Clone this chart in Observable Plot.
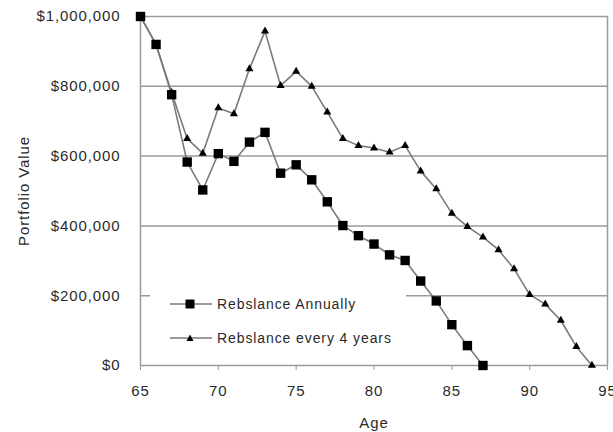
<!DOCTYPE html>
<html>
<head>
<meta charset="utf-8">
<script src="https://cdn.jsdelivr.net/npm/d3@7"></script>
<script src="https://cdn.jsdelivr.net/npm/@observablehq/plot@0.6"></script>
<style>
  body { margin: 0; background: #fff; }
  #wrap { position: relative; width: 613px; height: 432px; font-family: "Liberation Sans", Arial, sans-serif; }
  #legend { position: absolute; left: 150px; top: 286px; width: 256px; height: 64px; background: #fff;
            font-size: 14px; letter-spacing: 0.9px; color: #2a2a2a; }
  .item { position: absolute; left: 20px; height: 16px; display: flex; align-items: center; }
  .item svg { margin-right: 5px; }
</style>
</head>
<body>
<div id="wrap"></div>
<script>
const annualAges = [65,66,67,68,69,70,71,72,73,74,75,76,77,78,79,80,81,82,83,84,85,86,87];
const annualValues = [1000000,920000,776000,583000,503000,607000,585000,640000,668000,551000,575000,532000,469000,401000,372000,348000,317000,301000,242000,185000,117000,57000,0];
const every4Ages = [65,66,67,68,69,70,71,72,73,74,75,76,77,78,79,80,81,82,83,84,85,86,87,88,89,90,91,92,93,94];
const every4Values = [1000000,920000,782000,650000,608000,738000,721000,850000,958000,802000,843000,800000,726000,650000,630000,623000,611000,630000,557000,506000,436000,398000,368000,331000,277000,203000,176000,129000,54000,0];
const seriesNames = ["Rebslance Annually", "Rebslance every 4 years"];
const yTicks = [0, 200000, 400000, 600000, 800000, 1000000];
const xTicks = [65, 70, 75, 80, 85, 90, 95];

const annual = annualAges.map((a, i) => ({age: a, value: annualValues[i]}));
const every4 = every4Ages.map((a, i) => ({age: a, value: every4Values[i]}));

const lineColor = "#7a7a7a";
const gridColor = "#9a9a9a";
const money = d => "$" + d3.format(",")(d);

const chart = Plot.plot({
  width: 613,
  height: 432,
  marginLeft: 140,
  marginRight: 6,
  marginTop: 16,
  marginBottom: 67,
  style: {fontFamily: "'Liberation Sans', Arial, sans-serif", fontSize: "15px", letterSpacing: "0.9px", color: "#2a2a2a", background: "#fff", overflow: "visible"},
  x: {domain: [65, 95]},
  y: {domain: [0, 1000000]},
  marks: [
    Plot.ruleY(yTicks, {stroke: gridColor, strokeWidth: 1.5}),
    Plot.ruleX([65, 95], {stroke: gridColor, strokeWidth: 1.5}),
    Plot.axisX({ticks: xTicks, tickSize: 5, tickPadding: 15, stroke: gridColor, label: "Age", labelAnchor: "center", labelOffset: 62, labelArrow: "none"}),
    Plot.axisY({ticks: yTicks, tickSize: 0, tickPadding: 20, tickFormat: money, label: "Portfolio Value", labelAnchor: "center", labelOffset: 122, labelArrow: "none"}),
    Plot.line(every4, {x: "age", y: "value", stroke: lineColor, strokeWidth: 1.6}),
    Plot.line(annual, {x: "age", y: "value", stroke: lineColor, strokeWidth: 1.6}),
    Plot.dot(every4, {x: "age", y: "value", symbol: "triangle", r: 3, fill: "#000", stroke: "none"}),
    Plot.dot(annual, {x: "age", y: "value", symbol: "square", r: 5.3, fill: "#000", stroke: "none"})
  ]
});

const wrap = document.getElementById("wrap");
wrap.appendChild(chart);

const legend = document.createElement("div");
legend.id = "legend";
const swatch = (sym) => {
  const s = sym === "square"
    ? `<rect x="15.5" y="3.5" width="9" height="9" fill="#000"/>`
    : `<path d="M20,4.5 L23.5,11 L16.5,11 Z" fill="#000"/>`;
  return `<svg width="42" height="16"><line x1="0" y1="8" x2="42" y2="8" stroke="${lineColor}" stroke-width="1.5"/>${s}</svg>`;
};
legend.innerHTML =
  `<div class="item" style="top:10px">${swatch("square")}<span>${seriesNames[0]}</span></div>` +
  `<div class="item" style="top:44px">${swatch("triangle")}<span>${seriesNames[1]}</span></div>`;
wrap.appendChild(legend);
</script>
</body>
</html>
